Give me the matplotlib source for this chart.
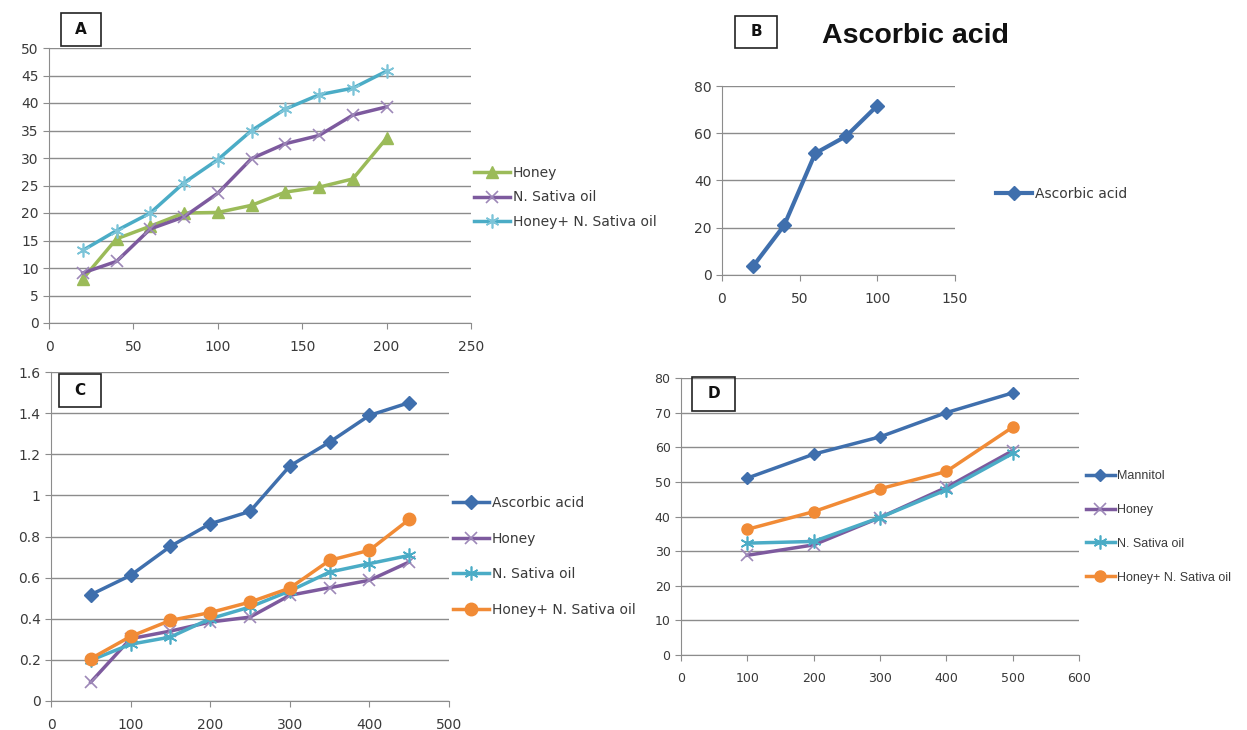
import matplotlib
matplotlib.use("Agg")
import matplotlib.pyplot as plt
from matplotlib.ticker import FuncFormatter
from matplotlib.patches import Rectangle

# Panel A data
a_x = [20, 40, 60, 80, 100, 120, 140, 160, 180, 200]
a_honey = [8.0, 15.3, 17.6, 20.0, 20.1, 21.4, 23.8, 24.7, 26.2, 33.6]
a_sativa = [9.1, 11.2, 17.1, 19.3, 23.6, 29.9, 32.6, 34.1, 37.8, 39.3]
a_mix = [13.2, 16.8, 20.0, 25.5, 29.7, 35.0, 38.9, 41.5, 42.7, 45.8]

# Panel B data
b_x = [20, 40, 60, 80, 100]
b_ascorbic = [3.7, 21.0, 51.5, 58.8, 71.7]

# Panel C data
c_x = [50, 100, 150, 200, 250, 300, 350, 400, 450]
c_ascorbic = [0.517, 0.611, 0.752, 0.862, 0.922, 1.143, 1.259, 1.389, 1.451]
c_honey = [0.092, 0.303, 0.34, 0.384, 0.408, 0.514, 0.551, 0.587, 0.676]
c_sativa = [0.198, 0.276, 0.311, 0.40, 0.457, 0.535, 0.627, 0.668, 0.708]
c_mix = [0.206, 0.314, 0.392, 0.43, 0.481, 0.549, 0.684, 0.733, 0.883]

# Panel D data
d_x = [100, 200, 300, 400, 500]
d_mannitol = [51.1, 58.0, 63.0, 70.0, 75.7]
d_honey = [28.8, 31.8, 39.7, 48.4, 59.0]
d_sativa = [32.3, 32.8, 39.7, 47.7, 58.2]
d_mix = [36.3, 41.4, 48.0, 53.0, 65.8]

BLUE = "#3f6fad"
GREEN = "#9bbb59"
PURPLE = "#7d5a9e"
CYAN = "#4bacc6"
ORANGE = "#f18b36"
GRID = "#8c8c8c"
TXT = "#3a3a3a"
STAR = (6, 2, 0)

W, H = 1247, 730
fig = plt.figure(figsize=(W / 100, H / 100), dpi=100)


def px_axes(l, t, r, b):
    return fig.add_axes([l / W, 1 - b / H, (r - l) / W, (b - t) / H])


def style(ax, xlim, xstep, ylim):
    ax.set_xlim(*xlim)
    ax.set_ylim(*ylim)
    ax.set_xticks(range(xlim[0], xlim[1] + 1, xstep))
    ax.grid(axis="y", color=GRID, lw=1)
    ax.set_axisbelow(True)
    for s in ["top", "right"]:
        ax.spines[s].set_visible(False)
    for s in ["left", "bottom"]:
        ax.spines[s].set_color(GRID)
    ax.tick_params(colors=GRID, labelcolor=TXT, labelsize=10, length=4, direction="out")
    ax.tick_params(axis="x", pad=8)


def letter(l, t, r, b, s):
    fig.patches.append(Rectangle((l / W, 1 - b / H), (r - l) / W, (b - t) / H,
                                 transform=fig.transFigure, fill=False, ec="#222222", lw=1.2))
    fig.text((l + r) / 2 / W, 1 - (t + b) / 2 / H, s, ha="center", va="center",
             fontsize=11, fontweight="bold", color="#111111")


def legend(ax, x, y, gap=1.6, size=10, hl=2.6, family=None):
    leg = ax.legend(loc="upper left", bbox_to_anchor=(x / W, 1 - y / H), bbox_transform=fig.transFigure,
                    frameon=False, fontsize=size, handlelength=hl, labelspacing=gap, handletextpad=0.2,
                    borderpad=0, borderaxespad=0, labelcolor=TXT)
    if family:
        for t in leg.get_texts():
            t.set_family(family)


# A
ax = px_axes(49, 48, 471, 323)
ax.plot(a_x, a_honey, color=GREEN, lw=2.5, marker="^", ms=8, label="Honey")
ax.plot(a_x, a_sativa, color=PURPLE, lw=2.5, marker="x", ms=8, mew=1.2, mec="#9d88b8", label="N. Sativa oil")
ax.plot(a_x, a_mix, color=CYAN, lw=2.5, marker=STAR, ms=10, mew=1.2, mec="#7cc4d8", label="Honey+ N. Sativa oil")
style(ax, (0, 250), 50, (0, 50))
ax.set_yticks(range(0, 51, 5))
legend(ax, 474, 166, gap=0.75)
letter(61, 13, 101, 46, "A")

# B
ax = px_axes(722, 86, 955, 275)
ax.plot(b_x, b_ascorbic, color=BLUE, lw=3, marker="D", ms=7, label="Ascorbic acid")
style(ax, (0, 150), 50, (0, 80))
ax.set_yticks(range(0, 81, 20))
legend(ax, 996, 187)
letter(735, 16, 777, 48, "B")
fig.text(915 / W, 1 - 36 / H, "Ascorbic acid", ha="center", va="center", fontsize=20.5,
         fontweight="bold", color="#111111",
         family=["Liberation Sans Narrow", "Liberation Sans", "DejaVu Sans"])

# C
ax = px_axes(51, 372, 449, 701)
ax.plot(c_x, c_ascorbic, color=BLUE, lw=2.5, marker="D", ms=7, label="Ascorbic acid")
ax.plot(c_x, c_honey, color=PURPLE, lw=2.5, marker="x", ms=8, mew=1.2, mec="#9d88b8", label="Honey")
ax.plot(c_x, c_sativa, color=CYAN, lw=2.5, marker=STAR, ms=10, mew=1.2, mec="#4bacc6", label="N. Sativa oil")
ax.plot(c_x, c_mix, color=ORANGE, lw=2.5, marker="o", ms=9, label="Honey+ N. Sativa oil")
style(ax, (0, 500), 100, (0, 1.6))
ax.set_yticks([0, 0.2, 0.4, 0.6, 0.8, 1.0, 1.2, 1.4, 1.6])
ax.yaxis.set_major_formatter(FuncFormatter(lambda v, p: "%g" % round(v, 1)))
legend(ax, 453, 496, gap=1.55)
letter(59, 374, 101, 407, "C")

# D
ax = px_axes(681, 378, 1079, 655)
ax.plot(d_x, d_mannitol, color=BLUE, lw=2.5, marker="D", ms=6, label="Mannitol")
ax.plot(d_x, d_honey, color=PURPLE, lw=2.5, marker="x", ms=8, mew=1.2, mec="#9d88b8", label="Honey")
ax.plot(d_x, d_sativa, color=CYAN, lw=2.5, marker=STAR, ms=10, mew=1.2, mec="#4bacc6", label="N. Sativa oil")
ax.plot(d_x, d_mix, color=ORANGE, lw=2.5, marker="o", ms=8, label="Honey+ N. Sativa oil")
style(ax, (0, 600), 100, (0, 80))
ax.set_yticks(range(0, 81, 10))
ax.tick_params(labelsize=9)
legend(ax, 1086, 470, gap=1.75, size=9, hl=2.3, family=["Liberation Sans Narrow", "Liberation Sans"])
letter(692, 377, 735, 411, "D")

fig.savefig("out.png", dpi=100)
